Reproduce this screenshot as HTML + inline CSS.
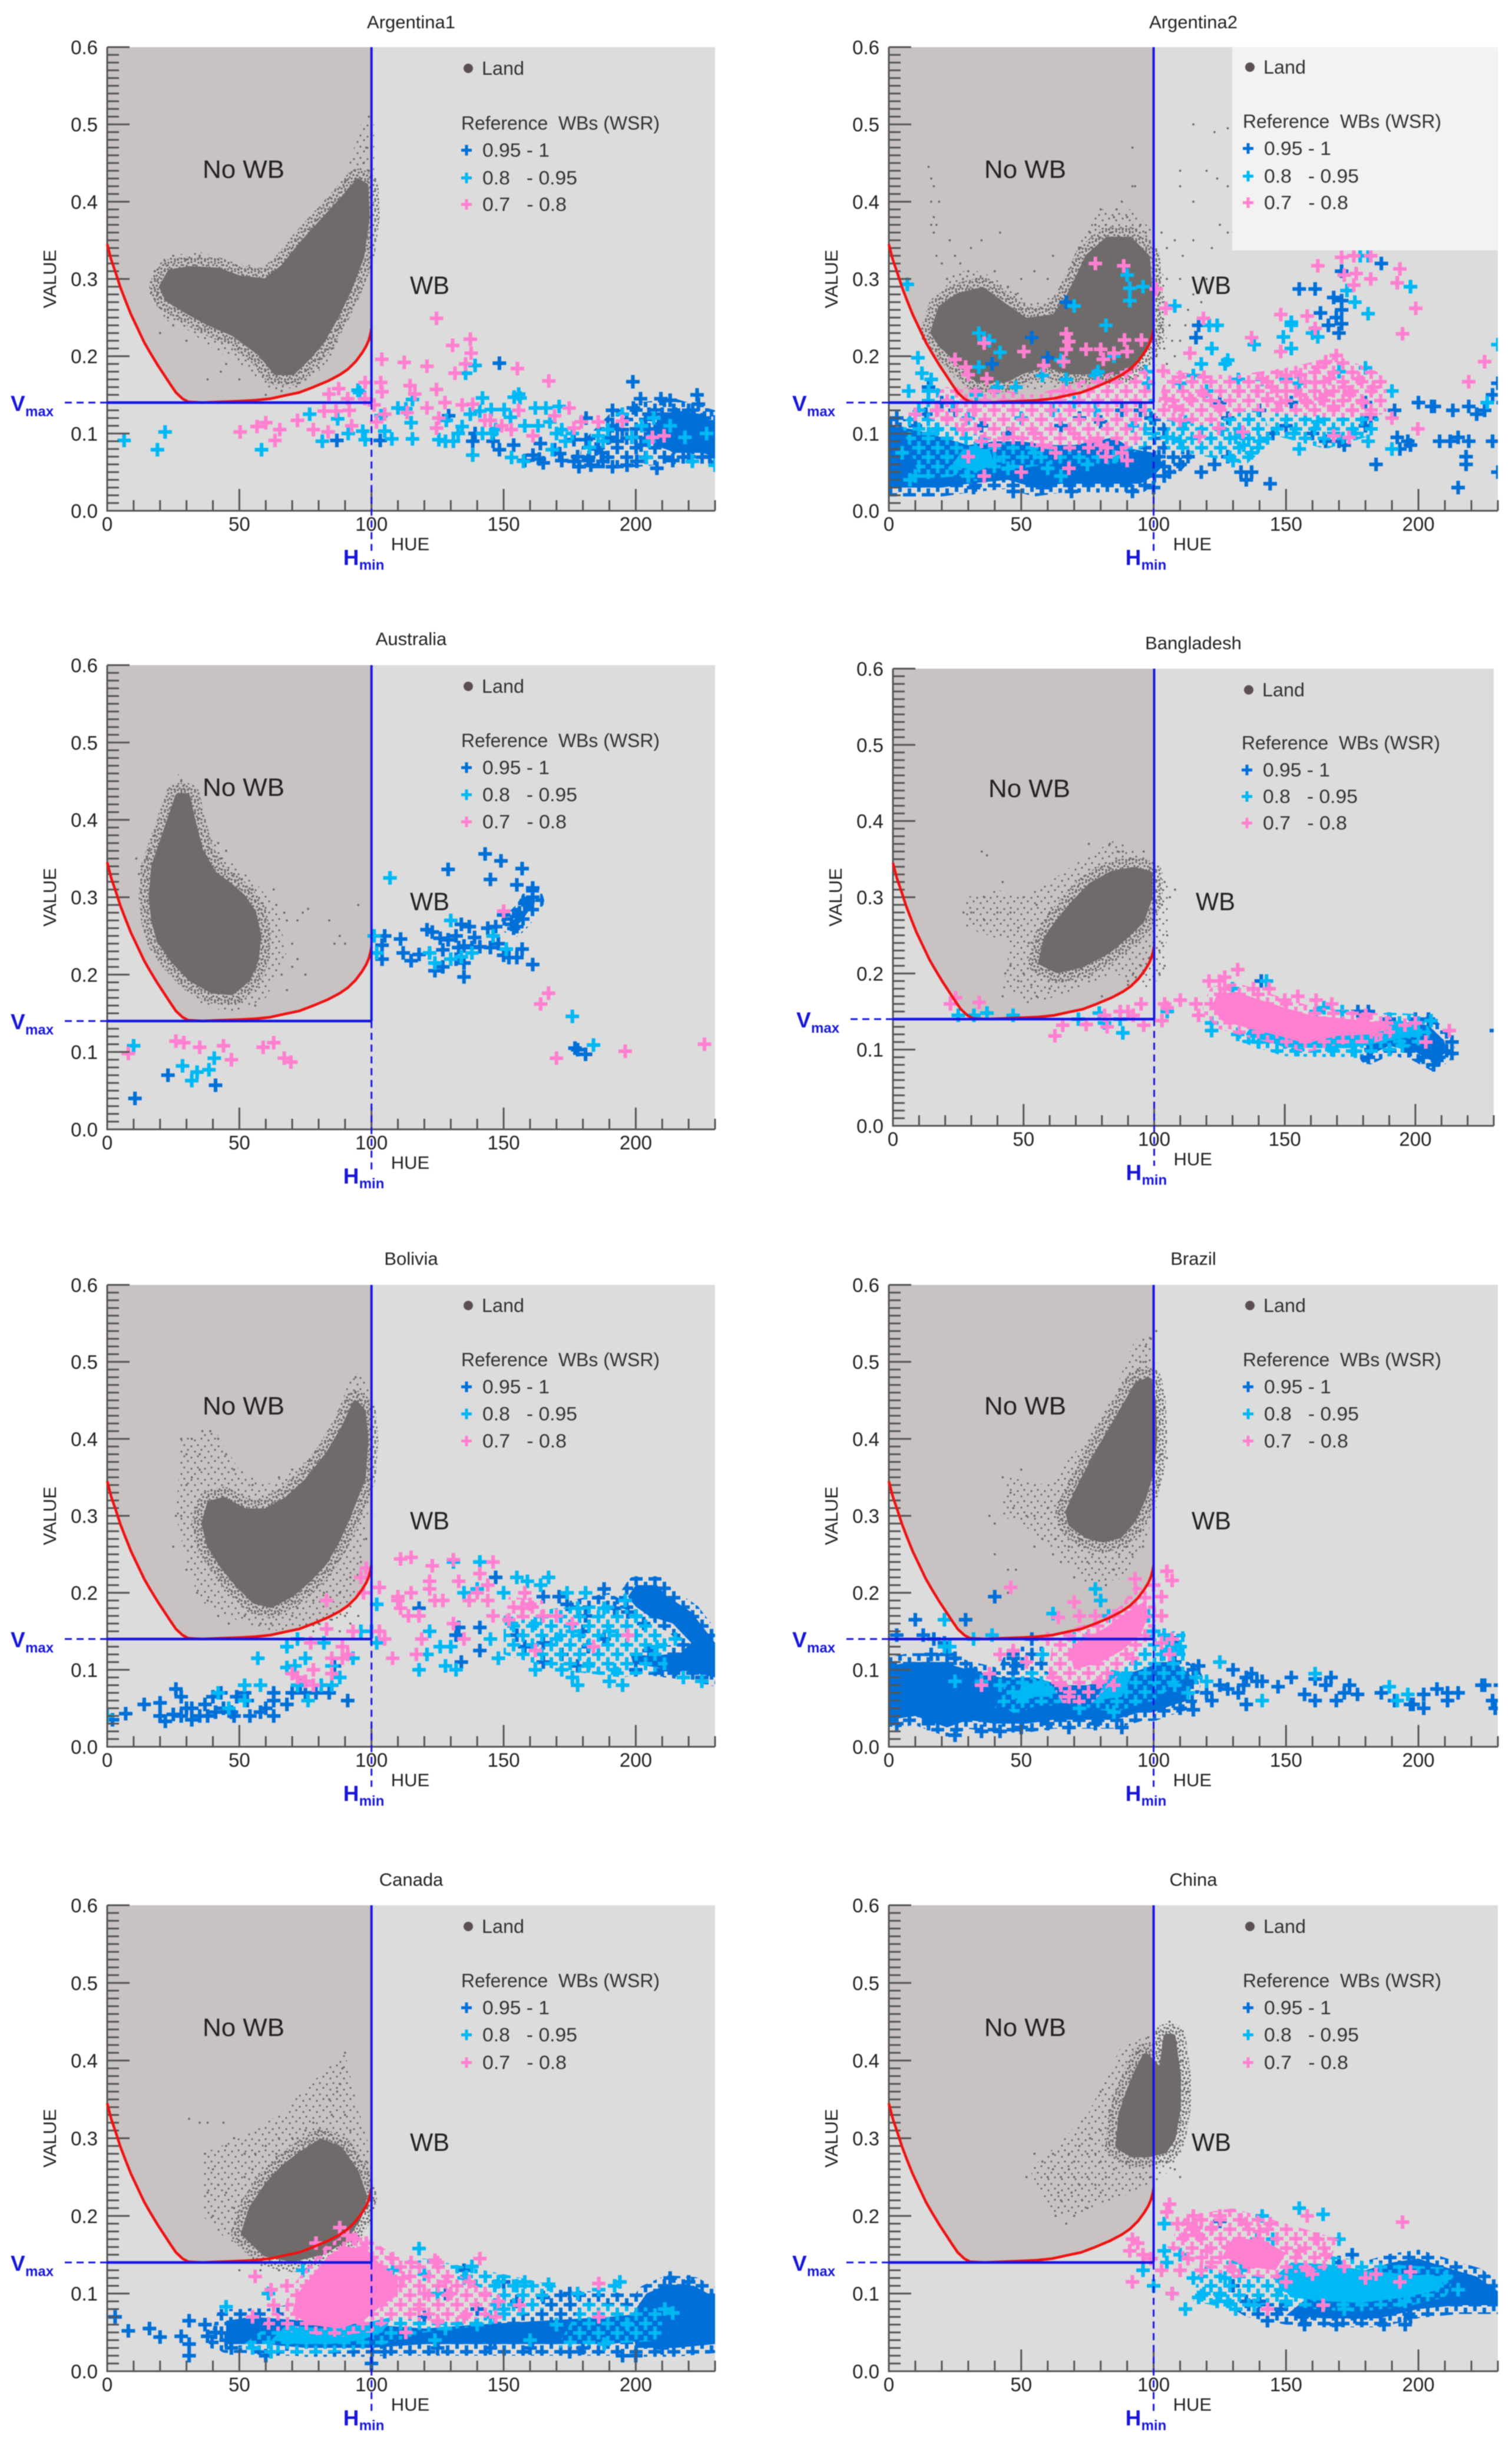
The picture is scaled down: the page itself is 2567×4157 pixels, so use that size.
<!DOCTYPE html>
<html>
<head>
<meta charset="utf-8">
<title>Hue-Value scatter panels</title>
<style>
html,body{margin:0;padding:0;background:#fff}
svg{display:block;filter:blur(.8px)}
text{font-family:"Liberation Sans",sans-serif;fill:#222;white-space:pre}
</style>
</head>
<body>
<svg id="figure" xmlns="http://www.w3.org/2000/svg" width="2567" height="4157" viewBox="0 0 2567 4157"></svg>
<script>
const categories=['Argentina1','Argentina2','Australia','Bangladesh','Bolivia','Brazil','Canada','China'];
const yTickLabels=['0.0','0.1','0.2','0.3','0.4','0.5','0.6'];
const xTickLabels=['0','50','100','150','200'];
const vmaxValue=0.14;
const hminValue=100;
const boundaryCurve=[[0,.345],[1.5,.325],[3.3,.307],[5,.289],[6.9,.272],[9,.254],[11.5,.236],[14,.218],[16,.206],[19,.189],[21.5,.176],[24,.163],[26,.153],[28.5,.145],[30.7,.141],[36,.14],[43,.141],[50.7,.142],[56,.143],[61.7,.145],[67,.149],[72.6,.153],[78,.16],[83.6,.168],[88,.176],[91,.183],[94,.193],[96.4,.204],[98,.213],[99,.221],[99.7,.23],[100,.236]];

const argentina1Land=[[21,.29],[24,.308],[31,.312],[42,.31],[50,.3],[60,.296],[67,.315],[74,.345],[82,.375],[90,.405],[95,.425],[97.5,.42],[98,.38],[96,.33],[91,.285],[86,.25],[81,.22],[76,.2],[70,.18],[64,.18],[58,.205],[48,.23],[38,.245],[30,.26],[23,.275]];
const argentina1Sparse=[[16,.3],[22,.33],[35,.335],[50,.32],[60,.315],[70,.345],[80,.385],[90,.43],[96,.5],[101,.5],[101,.4],[99,.33],[95,.27],[90,.24],[85,.2],[80,.18],[72,.16],[62,.155],[50,.19],[40,.21],[30,.235],[20,.25],[16,.275]];
const argentina1Dots=[[97,.45],[98,.47],[100,.49],[99,.51],[99,.44],[96,.43],[94,.43],[18,.3],[19,.28],[22,.32],[18,.31],[23,.25],[25,.24],[20,.23],[50,.17],[60,.15],[38,.17],[45,.19],[43,.18],[30,.22],[80,.185],[82,.2],[85,.21],[88,.24],[72,.165],[75,.17],[66,.155],[30,.325],[35,.33],[25,.33],[100,.47],[100,.42],[90,.425],[86,.38],[82,.36],[78,.18],[68,.165],[55,.2]];
const argentina1Clouds={blue:[[[207,.085],[215,.075],[225,.075],[230,.07],[230,.11],[225,.125],[215,.13],[208,.12]]],blueLoose:[[[178,.055],[195,.055],[210,.06],[230,.06],[230,.13],[215,.145],[200,.14],[190,.125],[180,.09]]],cyan:[],cyanLoose:[],pink:[],pinkLoose:[]};
const argentina1Blue=[[86.9,.091],[103.3,.091],[129.2,.123],[139.2,.1],[138.3,.09],[148.4,.191],[148.4,.079],[153.8,.085],[161.1,.072],[163.5,.067],[163.9,.087],[169.3,.079],[171.2,.074],[176.6,.092],[181.2,.092],[181.2,.12],[176.6,.064],[178.5,.057],[183,.059],[187.6,.064],[191.2,.13],[191.2,.057],[196.7,.059],[200.4,.064],[198.9,.167],[201.8,.145],[199.1,.133],[194.9,.105],[191.2,.11],[208,.055],[209.5,.145],[213,.143],[223.2,.15],[223.7,.138],[205,.125],[210,.125],[215,.125],[220,.13],[226,.12],[230,.115],[205,.105],[212,.1],[218,.11],[224,.105],[208,.09],[214,.085],[220,.08],[226,.085],[230,.09],[214,.065],[220,.07],[228,.07],[200,.095],[190,.095],[185,.08],[178,.07],[172,.065],[165,.062],[158,.065],[146,.09],[182,.065],[187,.075],[193,.09],[202,.085],[215,.11],[222,.12]];
const argentina1Cyan=[[6.4,.091],[19,.079],[21.9,.102],[58.4,.079],[76.6,.125],[81.4,.09],[87.2,.119],[91.2,.1],[94.9,.156],[95.5,.153],[96.7,.103],[97.6,.092],[105,.103],[107.7,.093],[103.6,.123],[110,.133],[113,.132],[115.5,.144],[115,.114],[115.5,.093],[128.3,.117],[131,.09],[135.6,.178],[139.2,.188],[142,.146],[134.3,.109],[137.4,.125],[141,.129],[145.3,.131],[145.6,.1],[150.2,.131],[152.6,.121],[156.2,.146],[155.7,.151],[154,.147],[153,.069],[157.5,.064],[162,.133],[166,.133],[163,.11],[167.5,.115],[171,.135],[172,.105],[173.4,.09],[168.4,.079],[138.3,.072],[132.8,.1],[125.5,.092],[128,.09],[185.8,.097],[187.6,.09],[182.5,.082],[189.4,.105],[194.9,.125],[198.5,.095],[202.2,.11],[206.8,.12],[205,.09],[213,.11],[218.6,.095],[221.4,.064],[226.8,.1],[230,.059],[204,.069],[142,.1],[147,.105],[158,.11],[170,.1],[176,.1]];
const argentina1Pink=[[50.3,.102],[56.7,.109],[60,.114],[65.3,.105],[63.5,.091],[72,.117],[78,.105],[83.6,.102],[82.1,.129],[86.6,.129],[83.9,.151],[87.6,.158],[91,.145],[91.6,.13],[92.5,.11],[97.6,.166],[97.5,.145],[101,.137],[103.9,.196],[103.5,.166],[104,.154],[101.9,.115],[105,.125],[112.4,.192],[114.6,.162],[116.4,.151],[113.5,.127],[121,.187],[121,.133],[124.6,.249],[124.6,.157],[125.5,.12],[124.6,.107],[127.8,.14],[130.7,.214],[131.6,.178],[135.6,.19],[137.4,.222],[137.7,.204],[134.3,.137],[138.3,.138],[142.9,.117],[145,.117],[149.3,.11],[152.9,.105],[155.2,.184],[155.7,.13],[167.1,.168],[161.1,.097],[169.3,.123],[174.8,.133],[176.6,.107],[179.4,.115],[185.8,.115],[194.9,.116],[206.3,.095],[210.7,.097]];

const argentina2Land=[[17,.231],[19.9,.262],[26.2,.277],[35.3,.285],[44.4,.262],[51.7,.245],[62.7,.25],[68,.275],[73,.31],[75.4,.328],[82.7,.35],[90.9,.35],[97.3,.328],[98.2,.282],[99,.231],[95.4,.206],[90,.181],[77.2,.181],[68,.181],[59,.191],[50,.181],[44.4,.171],[33.5,.171],[26.2,.196],[19.9,.216]];
const argentina2Sparse=[[15,.22],[18,.27],[25,.31],[35,.31],[45,.29],[55,.27],[65,.28],[70,.33],[78,.39],[92,.39],[100,.36],[104,.3],[105,.22],[100,.18],[85,.16],[60,.16],[40,.15],[28,.16],[20,.19]];
const argentina2Dots=[[105,.34],[103,.36],[108,.35],[110,.3],[105,.3],[102,.26],[106,.24],[110,.22],[112,.24],[104,.21],[108,.2],[115,.28],[120,.3],[115,.35],[125,.37],[128,.36],[130,.36],[115,.4],[110,.44],[120,.44],[124,.43],[128,.42],[115,.5],[123,.49],[128,.495],[110,.42],[15,.445],[16,.43],[17,.42],[16,.4],[17,.38],[18,.37],[16,.37],[19,.4],[17,.36],[25,.33],[27,.32],[30,.31],[35,.35],[50,.3],[55,.31],[60,.3],[70,.32],[88,.4],[92,.42],[93,.42],[92,.47],[85,.38],[80,.39],[82,.37],[90,.38],[95,.37],[97,.36],[76,.36],[78,.37],[86,.39],[84,.36],[100,.33],[101,.31],[102,.28],[104,.27],[108,.26],[103,.24],[107,.22],[101,.2],[105,.19],[22,.3],[28,.3],[33,.3],[40,.31],[45,.29],[48,.28],[65,.29],[68,.3],[72,.34],[75,.33],[18,.33],[23,.35],[20,.32],[31,.34],[42,.36],[62,.33],[113,.26],[118,.27],[111,.33],[122,.34]];
const argentina2Clouds={blue:[[[0,.03],[10,.03],[20,.03],[30,.035],[45,.04],[55,.03],[65,.035],[75,.035],[85,.035],[95,.035],[100,.045],[104,.06],[100,.075],[92,.08],[85,.095],[70,.085],[60,.085],[50,.09],[40,.09],[30,.085],[20,.095],[10,.105],[0,.11]]],blueLoose:[[[5,.09],[30,.08],[60,.08],[90,.07],[110,.05],[115,.07],[100,.13],[70,.14],[40,.125],[15,.13]]],cyan:[[[24,.06],[33,.05],[40,.06],[38,.08],[28,.08]]],cyanLoose:[[[12,.04],[40,.05],[60,.06],[85,.06],[100,.09],[100,.15],[70,.15],[40,.15],[15,.16],[5,.11]],[[105,.08],[120,.07],[135,.06],[145,.09],[140,.14],[120,.17],[105,.15]],[[143,.1],[165,.08],[185,.1],[185,.14],[165,.13],[145,.14]]],pink:[],pinkLoose:[[[15,.12],[40,.09],[60,.08],[85,.07],[95,.09],[100,.17],[95,.19],[75,.17],[55,.15],[35,.16],[20,.16]],[[100,.12],[120,.11],[135,.13],[150,.125],[168,.12],[188,.125],[188,.175],[170,.2],[150,.185],[130,.175],[105,.18]]]};
const argentina2Blue=[[67,.27],[54,.224],[39,.19],[60,.198],[116,.224],[117,.24],[155,.287],[161,.287],[168,.276],[171,.272],[171,.26],[163,.256],[166,.24],[171,.242],[170,.23],[186,.32],[171,.31],[169,.25],[3,.12],[5,.1],[10,.11],[14,.125],[15,.16],[20,.14],[25,.13],[30,.12],[35,.11],[45,.1],[55,.1],[65,.11],[72,.12],[80,.115],[88,.13],[95,.13],[99,.12],[102,.07],[106,.05],[110,.06],[113,.07],[118,.05],[123,.06],[128,.07],[133,.05],[137,.05],[135,.04],[144,.035],[125,.14],[128,.12],[140,.13],[145,.1],[150,.11],[152,.14],[160,.1],[165,.09],[170,.09],[172,.085],[180,.14],[182,.12],[184,.06],[180,.11],[191,.13],[192,.095],[193,.08],[196,.09],[197,.085],[200,.14],[205,.135],[206,.135],[208,.09],[212,.09],[215,.095],[219,.09],[218,.07],[218,.06],[215,.03],[213,.13],[219,.135],[222,.125],[225,.13],[230,.165],[228,.15],[232,.14],[228,.09],[230,.05],[19,.045],[32,.03],[47,.025],[58,.03],[69,.025],[92,.025],[100,.03],[104,.045]];
const argentina2Cyan=[[7,.293],[11,.198],[12.5,.178],[16,.17],[7.5,.155],[15,.155],[34,.23],[36,.222],[38,.22],[42,.205],[34,.186],[33,.15],[41,.16],[48,.16],[58,.175],[65,.195],[67,.17],[70,.265],[82,.24],[90,.305],[91,.288],[91,.272],[96,.29],[79,.18],[78,.175],[85,.2],[97,.18],[98,.165],[108,.265],[121,.24],[124,.24],[122,.21],[118,.19],[115,.175],[110,.165],[120,.155],[127,.19],[128,.195],[132,.17],[138,.215],[141,.17],[152,.244],[152,.24],[149,.225],[152,.21],[150,.17],[155,.165],[160,.23],[170,.18],[180,.185],[162,.225],[181,.255],[176,.27],[173,.285],[181,.33],[178,.33],[192,.295],[197,.29],[197,.29],[190,.155],[230,.215],[112,.115],[105,.095],[110,.09],[126,.105],[131,.095],[133,.1],[130,.065],[134,.085],[137,.075],[140,.09],[155,.08],[153,.1],[162,.115],[168,.1],[176,.1],[181,.09],[190,.08],[5,.075],[8,.04],[10,.045],[22,.07],[25,.055],[40,.065],[55,.075],[60,.055],[75,.06],[85,.07],[30,.045],[45,.055],[65,.045],[15,.1],[18,.105],[30,.12],[24,.14],[50,.12],[62,.13],[70,.14],[78,.13],[92,.11],[100,.1],[226,.14]];
const argentina2Pink=[[78,.32],[88.7,.317],[67,.229],[68,.219],[67,.209],[51,.206],[36,.217],[25,.196],[29,.186],[30,.176],[37,.171],[58.5,.188],[66,.193],[74.5,.209],[80,.209],[85,.204],[89,.221],[95.4,.221],[90,.206],[81,.196],[66,.155],[104.6,.262],[101,.287],[118.8,.249],[137,.224],[148,.254],[158,.252],[161,.236],[162,.317],[171,.328],[175.6,.33],[182,.33],[172,.305],[176.5,.307],[182,.3],[175.6,.292],[193,.313],[192,.295],[199,.262],[194,.229],[225,.193],[219,.167],[199.8,.106],[113.7,.204],[103.6,.181],[110,.173],[119,.173],[148,.206],[162,.186],[169,.201],[165,.193],[141,.171],[144.6,.16],[150,.155],[155.5,.176],[161,.166],[166.5,.171],[172,.16],[177.4,.171],[183,.16],[139,.155],[143,.145],[148,.14],[155.5,.15],[163,.145],[168,.135],[174,.15],[179,.14],[132,.155],[124.6,.135],[119,.15],[113.7,.145],[108,.135],[104.6,.145],[110,.117],[117.3,.096],[124.6,.107],[133.7,.102],[168,.097],[173.8,.095],[150,.175],[158,.14],[165,.15],[175,.13],[182,.125],[190,.12],[10,.125],[18,.13],[22,.12],[28,.105],[32,.13],[35,.09],[30,.07],[40,.085],[47,.095],[50,.05],[36,.045],[55,.1],[58,.085],[63,.075],[68,.055],[70,.1],[76,.09],[80,.085],[82,.07],[88,.075],[90,.065]];

const australiaLand=[[17,.3],[18,.34],[21,.37],[24,.4],[27,.43],[30,.43],[32,.4],[35,.36],[40,.33],[46,.315],[51,.3],[55,.28],[57,.25],[56,.22],[53,.195],[47,.178],[40,.18],[32,.195],[25,.22],[20,.245],[18,.27]];
const australiaSparse=[[12,.31],[15,.36],[22,.41],[27,.46],[31,.45],[36,.39],[45,.35],[56,.32],[65,.28],[68,.22],[60,.17],[48,.15],[36,.16],[25,.2],[16,.24]];
const australiaDots=[[28,.45],[29,.44],[27,.43],[13,.34],[15,.35],[11,.35],[12,.33],[16,.36],[18,.38],[42,.37],[45,.36],[48,.33],[63,.31],[64,.29],[67,.28],[68,.27],[72,.27],[74,.28],[76,.285],[70,.24],[72,.22],[75,.2],[84,.27],[88,.25],[90,.24],[95,.29],[86,.24],[68,.18],[56,.16],[50,.165],[66,.2],[70,.21],[55,.31],[43,.35]];
const australiaClouds={blue:[[[152,.265],[158,.285],[161,.305],[162,.295],[157,.27],[154,.26]]],blueLoose:[],cyan:[],cyanLoose:[],pink:[],pinkLoose:[]};
const australiaBlue=[[10.5,.04],[23,.07],[41,.057],[143,.356],[149,.347],[157,.337],[129,.336],[145,.323],[155,.316],[161,.312],[161,.3],[150,.277],[155,.275],[156,.28],[158,.292],[153,.265],[155,.262],[121,.258],[123,.255],[132,.25],[134,.265],[137,.262],[144,.26],[146,.25],[147,.262],[105,.25],[104,.238],[111,.246],[112,.228],[104,.22],[115,.218],[118,.226],[122,.228],[127,.232],[129,.245],[133,.235],[135,.237],[139,.248],[141,.236],[145,.235],[148,.24],[150,.225],[152,.222],[155,.222],[157,.233],[161,.213],[124,.205],[127,.21],[135,.197],[135,.215],[132,.22],[126,.247],[138,.235],[177,.105],[178,.103],[181,.097]];
const australiaCyan=[[10,.108],[28.5,.082],[32,.063],[34,.074],[38.5,.077],[40.5,.092],[107,.325],[130,.27],[101,.25],[102,.228],[122,.228],[124,.215],[130,.22],[134,.223],[138,.228],[146,.25],[151,.233],[176,.146],[184,.109]];
const australiaPink=[[8,.098],[26,.114],[29,.112],[35,.106],[44,.108],[47,.09],[59,.106],[63,.112],[67,.092],[69.5,.087],[150,.282],[164,.162],[167,.176],[170,.092],[196,.101],[226,.11]];

const bangladeshLand=[[57,.215],[59,.245],[63,.265],[69,.29],[76,.315],[84,.33],[92,.335],[98,.33],[98,.3],[95,.27],[89,.25],[82,.23],[72,.212],[63,.205]];
const bangladeshSparse=[[28,.26],[28,.3],[40,.31],[50,.3],[60,.32],[72,.35],[85,.375],[98,.35],[106,.31],[104,.2],[98,.18],[85,.2],[68,.175],[52,.16],[42,.18],[45,.24]];
const bangladeshDots=[[35,.3],[30,.28],[27,.28],[35,.27],[40,.28],[45,.28],[36,.355],[34,.36],[42,.32],[50,.3],[55,.29],[60,.28],[48,.26],[52,.24],[45,.21],[43,.2],[48,.19],[42,.17],[55,.17],[60,.18],[50,.2],[65,.19],[70,.19],[75,.195],[80,.17],[90,.19],[92,.2],[95,.21],[98,.22],[100,.24],[102,.23],[104,.21],[103,.24],[105,.25],[108,.31],[106,.3],[104,.32],[103,.29],[83,.37],[86,.36],[92,.35],[96,.36],[80,.34],[100,.34],[101,.27],[90,.185],[93,.195],[96,.2],[100,.195],[88,.36],[75,.37],[102,.2],[58,.23],[53,.185],[68,.2]];
const bangladeshClouds={blue:[[[182,.092],[190,.105],[200,.097],[207,.084],[212,.097],[211,.112],[205,.132],[195,.135],[185,.132],[180,.12]]],blueLoose:[],cyan:[[[135,.12],[150,.103],[165,.102],[175,.102],[185,.108],[195,.115],[203,.118],[200,.135],[190,.137],[170,.132],[150,.138],[137,.13]]],cyanLoose:[],pink:[[[122,.155],[124,.172],[131,.176],[140,.166],[150,.155],[160,.145],[175,.14],[188,.135],[189,.126],[183,.12],[170,.118],[158,.108],[148,.118],[136,.128],[126,.138]]],pinkLoose:[]};
const bangladeshBlue=[[141,.19],[207,.08],[209,.09],[214,.095],[214,.11],[210,.105],[203,.09],[198,.1],[182,.09],[183,.1],[188,.125],[178,.15],[182,.15],[190,.14],[200,.14],[205,.14],[231,.125]];
const bangladeshCyan=[[25,.145],[31,.145],[36,.148],[46,.145],[71,.14],[79,.148],[81,.135],[87,.14],[88,.122],[105,.15],[122,.125],[122,.135],[132,.12],[138,.118],[143,.19],[150,.11],[162,.15],[165,.155],[172,.15],[177,.098],[206,.138],[200,.125],[190,.1],[195,.105],[130,.18],[140,.11],[155,.1],[168,.1]];
const bangladeshPink=[[22,.16],[24,.168],[33,.162],[62,.118],[65,.132],[74,.133],[81,.145],[82,.13],[87,.15],[90,.15],[92,.145],[95,.16],[96,.132],[103,.138],[104,.16],[105,.155],[110,.165],[116,.16],[117,.145],[121,.19],[125,.19],[127,.195],[132,.205],[127,.18],[138,.18],[144,.18],[150,.165],[155,.17],[162,.165],[168,.16],[180,.14],[189,.135],[185,.12],[196,.132],[200,.135],[204,.11],[213,.125],[181,.145]];

const boliviaLand=[[37,.29],[39,.315],[44,.32],[52,.305],[60,.305],[68,.32],[76,.345],[84,.38],[90,.415],[94,.445],[96.5,.435],[97.5,.4],[96.5,.35],[92,.31],[87,.27],[82,.24],[76,.218],[70,.2],[62,.185],[56,.19],[50,.21],[44,.235],[39,.262]];
const boliviaSparse=[[26,.3],[28,.4],[41,.41],[50,.36],[60,.34],[72,.36],[85,.41],[93,.49],[99,.47],[100,.35],[98,.28],[95,.22],[92,.17],[80,.155],[60,.15],[45,.17],[35,.19],[30,.24]];
const boliviaDots=[[94,.48],[94,.46],[93,.43],[28,.4],[32,.4],[36,.41],[39,.41],[42,.4],[30,.38],[35,.38],[45,.38],[28,.3],[26,.3],[30,.34],[32,.35],[35,.36],[25,.26],[32,.26],[30,.23],[34,.2],[38,.19],[43,.22],[42,.17],[46,.16],[52,.17],[58,.16],[62,.16],[70,.17],[72,.18],[78,.19],[82,.2],[85,.19],[88,.2],[92,.22],[96,.24],[98,.27],[100,.3],[100,.35],[100,.38],[88,.35],[84,.32],[78,.33],[70,.36],[65,.35],[82,.37],[86,.39],[48,.36],[55,.34],[95,.17],[92,.16],[88,.15],[80,.16],[90,.17],[85,.165],[78,.15]];
const boliviaClouds={blue:[[[197,.195],[200,.21],[208,.21],[212,.195],[221,.175],[230,.135],[230,.09],[220,.098],[210,.102],[199,.108],[198,.12],[206,.118],[217,.122],[221,.135],[214,.16],[205,.17],[200,.182]]],blueLoose:[[[175,.1],[195,.1],[200,.18],[190,.2],[175,.19]]],cyan:[],cyanLoose:[[[150,.12],[170,.1],[195,.09],[212,.1],[212,.14],[205,.17],[190,.185],[170,.18],[150,.17]]],pink:[],pinkLoose:[[[150,.16],[165,.17],[165,.19],[152,.195]]]};
const boliviaBlue=[[2,.035],[7,.043],[14,.055],[20,.057],[26,.075],[28,.065],[20,.04],[25,.042],[22,.033],[28,.04],[30,.05],[32,.035],[32,.05],[35,.04],[37,.055],[38,.04],[41,.045],[40,.065],[43,.07],[44,.05],[47,.045],[48,.04],[49,.065],[52,.07],[53,.06],[54,.04],[58,.045],[60,.05],[63,.04],[63,.07],[63,.06],[68,.055],[70,.07],[73,.08],[75,.07],[79,.07],[84,.07],[86,.105],[91,.06],[118,.18],[133,.155],[134,.11],[132,.145],[141,.125],[141,.155],[147,.22],[155,.145],[158,.13],[165,.135],[165,.195],[165,.11],[171,.195],[172,.12],[174,.185],[178,.105],[180,.15],[181,.17],[188,.205],[182,.13],[188,.14],[192,.18],[203,.16],[205,.125],[210,.1],[200,.1],[197,.175],[215,.1],[225,.09]];
const boliviaCyan=[[0,.04],[52,.08],[57,.115],[58,.08],[52,.06],[46,.05],[42,.07],[68,.13],[68,.103],[72,.14],[71,.105],[75,.115],[82,.135],[85,.105],[81,.08],[76,.06],[72,.08],[85,.08],[88,.09],[93,.115],[96,.15],[100,.15],[102,.135],[102,.185],[118,.1],[121,.12],[122,.15],[126,.13],[128,.105],[130,.13],[131,.24],[132,.1],[135,.2],[140,.205],[141,.24],[145,.14],[148,.115],[150,.2],[153,.16],[155,.22],[159,.215],[162,.16],[162,.1],[164,.21],[167,.22],[170,.14],[174,.2],[176,.15],[176,.09],[178,.08],[182,.105],[181,.2],[188,.18],[190,.15],[192,.1],[190,.085],[195,.08],[196,.19],[200,.17],[208,.13],[215,.14],[218,.09],[225,.085],[178,.18],[172,.1]];
const boliviaPink=[[83,.19],[83,.153],[72,.09],[70,.095],[78,.1],[75,.085],[78,.08],[85,.095],[85,.115],[89,.115],[89,.13],[77,.135],[91,.12],[93,.15],[97,.2],[96,.22],[98,.232],[103,.207],[103,.15],[105,.14],[108,.115],[110,.195],[111,.244],[115,.246],[111,.18],[110,.19],[115,.2],[114,.17],[118,.17],[117,.12],[119,.14],[122,.205],[122,.215],[123,.235],[124,.19],[127,.19],[131,.243],[131,.16],[133,.215],[135,.14],[137,.19],[140,.2],[141,.225],[144,.21],[146,.24],[146,.17],[144,.19],[152,.165],[157,.18],[158,.2],[160,.185],[165,.17],[170,.17],[162,.125],[176,.16],[184,.13],[197,.145]];

const brazilLand=[[68,.305],[72,.335],[78,.375],[84,.41],[89,.44],[94,.47],[98,.475],[99.5,.45],[100,.4],[99,.36],[96,.325],[92,.295],[87,.275],[81,.27],[75,.275],[69,.29]];
const brazilSparse=[[45,.35],[60,.34],[72,.39],[85,.46],[93,.53],[100,.535],[103,.42],[102,.32],[97,.27],[90,.22],[75,.21],[65,.25],[50,.29],[42,.3]];
const brazilDots=[[95,.5],[97,.52],[99,.53],[100,.5],[97,.5],[94,.49],[93,.48],[101,.54],[100,.52],[102,.45],[104,.44],[102,.41],[103,.38],[105,.375],[102,.34],[43,.35],[46,.33],[50,.36],[47,.31],[52,.3],[38,.3],[40,.29],[55,.3],[60,.31],[65,.32],[58,.27],[62,.25],[55,.26],[65,.24],[70,.22],[75,.24],[80,.24],[82,.21],[85,.23],[90,.26],[95,.28],[63,.27],[68,.26],[72,.27],[77,.25],[87,.25],[40,.25],[45,.2],[45,.23],[48,.23],[85,.34],[78,.37],[70,.33],[96,.26],[92,.25]];
const brazilClouds={blue:[[[0,.035],[10,.04],[22,.025],[30,.035],[40,.03],[52,.03],[62,.035],[72,.035],[85,.035],[95,.045],[100,.045],[108,.055],[113,.06],[115,.09],[108,.11],[103,.11],[95,.1],[75,.08],[65,.08],[55,.09],[42,.09],[30,.1],[20,.11],[8,.11],[0,.105]]],blueLoose:[[[40,.09],[60,.09],[60,.13],[45,.13]]],cyan:[[[48,.055],[55,.065],[62,.065],[58,.085],[50,.08]],[[78,.06],[88,.065],[92,.095],[84,.1]]],cyanLoose:[[[40,.05],[60,.06],[85,.045],[100,.06],[112,.09],[112,.15],[98,.15],[92,.12],[70,.08],[55,.1],[45,.09]]],pink:[[[70,.1],[80,.11],[88,.125],[95,.145],[98,.17],[97,.19],[90,.175],[82,.155],[74,.14],[68,.125]]],pinkLoose:[[[60,.09],[66,.055],[76,.055],[85,.085],[93,.12],[100,.15],[100,.2],[93,.21],[85,.17],[70,.155],[62,.14]]]};
const brazilBlue=[[3,.145],[10,.165],[13,.145],[16,.12],[17,.14],[21,.135],[25,.115],[29,.165],[22,.12],[31,.1],[40,.195],[48,.105],[54,.14],[47,.115],[105,.09],[108,.11],[115,.1],[117,.105],[125,.08],[130,.1],[128,.075],[132,.07],[134,.08],[135,.09],[137,.095],[139,.085],[141,.085],[147,.078],[152,.09],[157,.068],[161,.088],[161,.06],[165,.08],[167,.09],[169,.06],[172,.07],[174,.08],[177,.068],[186,.07],[191,.06],[197,.055],[198,.055],[202,.05],[202,.068],[207,.075],[211,.07],[211,.06],[215,.07],[224,.08],[225,.08],[228,.06],[229,.05],[231,.08],[135,.055],[122,.06],[120,.07],[110,.05],[115,.048],[3,.03],[15,.03],[25,.015],[35,.02],[42,.02],[50,.025],[60,.03],[68,.025],[78,.03],[88,.025],[108,.135]];
const brazilCyan=[[21,.165],[39,.145],[78,.205],[80,.19],[62,.173],[83,.17],[32,.14],[21,.13],[23,.13],[58,.12],[70,.14],[72,.13],[75,.14],[98,.17],[100,.15],[104,.145],[105,.135],[107,.125],[103,.12],[110,.13],[125,.11],[116,.09],[108,.08],[113,.07],[120,.085],[141,.06],[161,.095],[189,.078],[192,.06],[196,.068],[47,.07],[42,.08],[55,.08],[60,.075],[35,.085],[25,.085],[50,.065],[72,.05],[85,.045]];
const brazilPink=[[46,.207],[70,.188],[64,.168],[93,.218],[100,.21],[105,.228],[107,.216],[103,.195],[103,.17],[42,.12],[47,.125],[52,.11],[38,.095],[35,.08],[62,.09],[65,.08],[68,.065],[85,.08],[80,.085],[76,.115],[92,.115],[106,.12],[103,.135],[107,.14],[60,.14],[72,.17],[78,.17],[85,.17]];

const canadaLand=[[52,.178],[55,.21],[61,.24],[67,.262],[74,.28],[81,.295],[88,.285],[94,.255],[97,.225],[95,.2],[90,.172],[82,.155],[70,.145],[60,.152]];
const canadaSparse=[[36,.2],[36,.28],[50,.3],[65,.33],[80,.38],[90,.41],[94,.35],[100,.28],[100,.2],[90,.16],[60,.15],[45,.17]];
const canadaDots=[[90,.41],[89,.39],[88,.37],[87,.36],[84,.35],[85,.33],[80,.31],[78,.32],[90,.33],[92,.31],[75,.31],[70,.3],[65,.3],[60,.29],[52,.28],[48,.3],[44,.32],[35,.32],[31,.325],[38,.32],[45,.29],[37,.28],[40,.26],[42,.24],[45,.23],[38,.23],[40,.2],[48,.21],[52,.25],[55,.26],[56,.28],[100,.3],[100,.28],[101,.22],[100,.2],[64,.28],[72,.3],[98,.27],[62,.14],[65,.13],[50,.13],[58,.13]];
const canadaClouds={blue:[[[200,.03],[215,.03],[230,.035],[230,.095],[222,.11],[212,.112],[204,.1],[198,.07]],[[45,.035],[60,.035],[75,.03],[100,.03],[120,.035],[140,.035],[165,.035],[190,.035],[205,.04],[205,.075],[190,.07],[165,.065],[140,.06],[120,.055],[100,.06],[75,.065],[55,.07],[45,.065]]],blueLoose:[[[38,.03],[60,.02],[90,.02],[120,.02],[160,.02],[200,.02],[230,.03],[230,.1],[200,.1],[170,.105],[150,.115],[130,.125],[105,.11],[60,.08],[42,.08]]],cyan:[[[62,.04],[72,.035],[85,.035],[96,.04],[104,.05],[108,.07],[95,.06],[80,.055],[68,.06]]],cyanLoose:[[[50,.03],[75,.02],[100,.03],[120,.05],[145,.06],[165,.08],[170,.11],[150,.125],[135,.135],[120,.145],[105,.14],[95,.08],[65,.07]],[[170,.03],[210,.04],[210,.08],[180,.09]]],pink:[[[70,.075],[76,.06],[88,.055],[97,.065],[104,.085],[110,.098],[110,.12],[104,.135],[98,.158],[90,.16],[84,.15],[78,.125],[72,.1]]],pinkLoose:[[[58,.055],[70,.05],[80,.1],[82,.16],[92,.18],[102,.165],[112,.14],[125,.14],[145,.1],[145,.07],[125,.06],[110,.07],[100,.05],[80,.045],[62,.08]]]};
const canadaBlue=[[3,.07],[8,.052],[16,.055],[20,.044],[28,.045],[31,.02],[31,.035],[31,.065],[37,.06],[38,.045],[41,.05],[45,.04],[47,.03],[52,.06],[56,.05],[60,.02],[68,.035],[120,.07],[128,.1],[135,.13],[140,.08],[150,.115],[155,.09],[165,.095],[175,.1],[180,.03],[195,.02],[200,.02],[213,.12],[220,.115],[230,.09],[100,.01],[105,.025],[125,.03],[145,.03],[160,.03],[175,.025],[210,.03]];
const canadaCyan=[[45,.083],[61,.1],[74,.13],[118,.158],[108,.13],[120,.125],[125,.1],[135,.12],[138,.135],[148,.115],[155,.11],[158,.115],[167,.112],[178,.1],[186,.105],[192,.11],[194,.115],[170,.06],[160,.04],[150,.08],[145,.07],[128,.055],[124,.04],[140,.06],[188,.035],[197,.06],[62,.025],[55,.03],[211,.08],[214,.075]];
const canadaPink=[[56,.122],[62,.105],[68,.11],[55,.07],[63,.085],[79,.165],[88,.185],[94,.17],[91,.175],[98,.165],[108,.145],[115,.14],[124,.143],[125,.14],[141,.145],[128,.115],[130,.1],[120,.1],[118,.08],[125,.065],[135,.07],[143,.1],[148,.09],[147,.07],[137,.115],[156,.085],[186,.07],[186,.113],[113,.05],[112,.12]];

const chinaLand=[[87,.29],[88,.33],[91,.36],[94,.385],[97,.405],[100,.395],[103,.38],[105,.43],[107,.43],[109,.38],[109,.34],[107,.3],[104,.285],[98,.28],[92,.28]];
const chinaSparse=[[53,.26],[60,.28],[75,.33],[88,.42],[97,.43],[108,.45],[113,.37],[110,.27],[100,.24],[85,.22],[70,.2],[62,.2]];
const chinaDots=[[98,.43],[96,.42],[94,.41],[106,.45],[107,.43],[111,.4],[112,.37],[113,.36],[110,.32],[108,.29],[80,.36],[85,.35],[84,.33],[80,.31],[76,.3],[78,.28],[72,.29],[68,.28],[62,.28],[58,.27],[55,.28],[52,.25],[62,.26],[65,.25],[68,.26],[70,.25],[72,.24],[75,.25],[78,.24],[82,.25],[85,.26],[65,.22],[70,.2],[75,.21],[63,.2],[67,.19],[73,.22],[80,.23],[90,.27],[95,.25],[99,.25],[100,.27],[105,.27],[108,.26],[110,.25],[64,.23],[69,.23],[82,.29],[86,.3],[80,.27],[75,.28],[70,.27],[60,.25]];
const chinaClouds={blue:[[[150,.072],[165,.068],[185,.068],[200,.08],[215,.085],[230,.085],[230,.103],[222,.122],[212,.132],[200,.145],[190,.14],[175,.125],[160,.1]]],blueLoose:[[[120,.1],[135,.07],[150,.06],[170,.06],[190,.06],[200,.075],[180,.11],[150,.12],[130,.13]]],cyan:[[[152,.095],[165,.09],[178,.088],[195,.095],[208,.105],[210,.122],[195,.125],[180,.13],[165,.138],[152,.14],[145,.12]]],cyanLoose:[[[115,.09],[130,.08],[150,.09],[160,.15],[150,.18],[135,.17],[118,.15]]],pink:[[[126,.148],[135,.135],[146,.13],[150,.152],[142,.168],[130,.172]]],pinkLoose:[[[105,.16],[112,.2],[130,.21],[150,.19],[170,.17],[165,.13],[130,.12],[115,.14]]]};
const chinaBlue=[[125,.193],[107,.1],[135,.09],[143,.065],[148,.08],[156,.07],[157,.06],[160,.075],[169,.06],[176,.07],[187,.06],[195,.06],[197,.07],[175,.15],[170,.14],[180,.075],[185,.085],[165,.09],[130,.11],[140,.09]];
const chinaCyan=[[96,.13],[100,.11],[104,.19],[104,.155],[105,.14],[110,.15],[112,.08],[115,.12],[117,.095],[119,.1],[124,.09],[125,.1],[127,.12],[130,.14],[131,.08],[137,.16],[138,.085],[139,.17],[141,.2],[145,.145],[145,.17],[148,.105],[150,.09],[155,.21],[164,.202],[165,.11],[168,.13],[170,.17],[172,.08],[180,.105],[188,.105],[195,.09],[205,.115],[210,.12],[215,.105],[160,.1],[155,.12],[128,.09],[133,.13]];
const chinaPink=[[92,.115],[91,.155],[92,.17],[94,.165],[96,.15],[99,.145],[105,.205],[106,.215],[109,.19],[112,.175],[113,.19],[115,.2],[116,.185],[117,.175],[120,.155],[118,.195],[122,.185],[122,.14],[125,.2],[128,.16],[130,.13],[133,.195],[135,.19],[137,.155],[140,.18],[144,.19],[145,.14],[150,.115],[143,.08],[155,.155],[158,.2],[158,.13],[162,.17],[165,.15],[160,.125],[164,.085],[172,.135],[180,.12],[184,.125],[193,.115],[194,.192],[197,.128],[107,.1],[103,.13],[110,.13],[113,.145],[118,.13]];

const layouts=[
 {l:182,r:1214,t:80,b:867,title:48,land:116,ref:209,e:[255,302,347],nowb:302,wb:499,lx:613},
 {l:1509,r:2543,t:80,b:867,title:48,land:114,ref:206,e:[252,299,344],nowb:302,wb:499,lx:613,overlay:true},
 {l:182,r:1214,t:1129,b:1917,title:1095,land:1165,ref:1257,e:[1303,1349,1395],nowb:1351,wb:1545,lx:613},
 {l:1516,r:2536,t:1135,b:1911,title:1102,land:1171,ref:1261,e:[1307,1352,1397],nowb:1353,wb:1545,lx:604},
 {l:182,r:1214,t:2181,b:2965,title:2147,land:2216,ref:2308,e:[2354,2400,2446],nowb:2401,wb:2596,lx:613},
 {l:1509,r:2543,t:2181,b:2965,title:2147,land:2216,ref:2308,e:[2354,2400,2446],nowb:2401,wb:2596,lx:613},
 {l:182,r:1214,t:3234,b:4025,title:3201,land:3270,ref:3362,e:[3408,3454,3501],nowb:3456,wb:3651,lx:613},
 {l:1509,r:2543,t:3234,b:4025,title:3201,land:3270,ref:3362,e:[3408,3454,3501],nowb:3456,wb:3651,lx:613}
];
const landHulls=[argentina1Land,argentina2Land,australiaLand,bangladeshLand,boliviaLand,brazilLand,canadaLand,chinaLand];
const landSparse=[argentina1Sparse,argentina2Sparse,australiaSparse,bangladeshSparse,boliviaSparse,brazilSparse,canadaSparse,chinaSparse];
const landDots=[argentina1Dots,argentina2Dots,australiaDots,bangladeshDots,boliviaDots,brazilDots,canadaDots,chinaDots];
const clouds=[argentina1Clouds,argentina2Clouds,australiaClouds,bangladeshClouds,boliviaClouds,brazilClouds,canadaClouds,chinaClouds];
const blueSeries=[argentina1Blue,argentina2Blue,australiaBlue,bangladeshBlue,boliviaBlue,brazilBlue,canadaBlue,chinaBlue];
const cyanSeries=[argentina1Cyan,argentina2Cyan,australiaCyan,bangladeshCyan,boliviaCyan,brazilCyan,canadaCyan,chinaCyan];
const pinkSeries=[argentina1Pink,argentina2Pink,australiaPink,bangladeshPink,boliviaPink,brazilPink,canadaPink,chinaPink];

const NS='http://www.w3.org/2000/svg';
const BLUE='#0070d8',CYAN='#00b8f4',PINK='#ff80d0',AXIS='#555',LINE='#1616e2',LAND='#6f6b6b';
const svg=document.getElementById('figure');
function mk(tag,attrs,parent){
  const e=document.createElementNS(NS,tag);
  for(const k in attrs)e.setAttribute(k,attrs[k]);
  parent.appendChild(e);
  return e;
}
function txt(parent,x,y,size,str,opts){
  opts=opts||{};
  const e=mk('text',{x:x,y:y,'font-size':size},parent);
  if(opts.anchor)e.setAttribute('text-anchor',opts.anchor);
  if(opts.weight)e.setAttribute('font-weight',opts.weight);
  if(opts.fill)e.setAttribute('style','fill:'+opts.fill);
  if(opts.len){e.setAttribute('textLength',opts.len);e.setAttribute('lengthAdjust','spacingAndGlyphs');}
  if(opts.transform)e.setAttribute('transform',opts.transform);
  e.textContent=str;
  return e;
}
const defs=mk('defs',{},svg);
[['blue',BLUE],['cyan',CYAN],['pink',PINK]].forEach(c=>{
  const pat=mk('pattern',{id:'plus-'+c[0],patternUnits:'userSpaceOnUse',width:32,height:32},defs);
  [[8,8],[24,24],[40,8],[8,40],[24,-8],[-8,24]].forEach(o=>{
    mk('path',{d:'M'+(o[0]-11)+' '+o[1]+'h22M'+o[0]+' '+(o[1]-11)+'v22',stroke:c[1],'stroke-width':6,fill:'none'},pat);
  });
});
const denseTile=mk('pattern',{id:'stipple-dense',patternUnits:'userSpaceOnUse',width:17,height:17},defs);
[[2,3],[8,1],[14,4],[5,8],[11,9],[16,12],[2,14],[8,15],[13,15]].forEach(o=>mk('circle',{cx:o[0],cy:o[1],r:1.8,fill:LAND},denseTile));
const sparseTile=mk('pattern',{id:'stipple-sparse',patternUnits:'userSpaceOnUse',width:23,height:19},defs);
[[3,4],[14,2],[20,10],[9,13]].forEach(o=>mk('circle',{cx:o[0],cy:o[1],r:1.6,fill:LAND},sparseTile));

function drawPanel(i){
  const L=layouts[i],name=categories[i].toLowerCase();
  const X=h=>L.l+h/230*(L.r-L.l);
  const Y=v=>L.b-v/0.6*(L.b-L.t);
  const pts=a=>a.map(p=>X(p[0]).toFixed(1)+','+Y(p[1]).toFixed(1)).join(' ');
  const g=mk('g',{},svg);
  
  
  const clipId='clip-'+i;
  const cp=mk('clipPath',{id:clipId},g);
  mk('rect',{x:L.l,y:L.t,width:L.r-L.l,height:L.b-L.t},cp);

  const bg=mk('rect',{x:L.l,y:L.t,width:L.r-L.l,height:L.b-L.t,fill:'#dcdcdc'},g);
  
  
  const region=mk('polygon',{points:pts([[0,.6],[hminValue,.6]].concat(boundaryCurve.slice().reverse())),fill:'#c8c2c2'},g);
  
  

  const body=mk('g',{'clip-path':'url(#'+clipId+')'},g);
  
  

  const sparse=mk('polygon',{points:pts(landSparse[i]),fill:'url(#stipple-sparse)'},body);
  
  
  const fringe=mk('polygon',{points:pts(landHulls[i]),fill:'none',stroke:'url(#stipple-dense)','stroke-width':46,'stroke-linejoin':'round'},body);
  
  
  const core=mk('polygon',{points:pts(landHulls[i]),fill:LAND,stroke:LAND,'stroke-width':12,'stroke-linejoin':'round'},body);
  
  
  for(const d of landDots[i]){
    const c=mk('circle',{cx:X(d[0]),cy:Y(d[1]),r:1.9,fill:LAND},body);
    
    
  }

  const groups=[['blue',BLUE,blueSeries[i]],['cyan',CYAN,cyanSeries[i]],['pink',PINK,pinkSeries[i]]];
  for(const gr of groups){
    for(const poly of clouds[i][gr[0]+'Loose']){
      const lp=mk('polygon',{points:pts(poly),fill:'url(#plus-'+gr[0]+')'},body);
      
      
    }
    for(const poly of clouds[i][gr[0]]){
      const pg=mk('polygon',{points:pts(poly),fill:gr[1],stroke:'url(#plus-'+gr[0]+')','stroke-width':30,'stroke-linejoin':'round'},body);
      
      
    }
    for(const p of gr[2]){
      const x=X(p[0]),y=Y(p[1]),a=11.5;
      const m=mk('path',{d:'M'+(x-a)+' '+y+'H'+(x+a)+'M'+x+' '+(y-a)+'V'+(y+a),stroke:gr[1],'stroke-width':6.2,fill:'none'},body);
      
      
    }
  }

  if(L.overlay){
    const ov=mk('rect',{x:L.l+583,y:L.t,width:L.r-L.l-583,height:345,fill:'#f2f2f2'},g);
    
    
  }

  const ticks=mk('g',{stroke:AXIS,'stroke-width':3,fill:'none'},g);
  
  
  for(let k=0;k<=60;k++){
    const len=k%10===0?38:20;
    mk('path',{d:'M'+L.l+' '+Y(k/100)+'h'+len},ticks);
  }
  for(let k=0;k<=23;k++){
    const len=k%5===0?37:18;
    mk('path',{d:'M'+X(k*10)+' '+L.b+'v'+(-len)},ticks);
  }
  mk('path',{d:'M'+L.l+' '+L.t+'V'+L.b+'H'+L.r},ticks);

  const red=mk('polyline',{points:pts(boundaryCurve),fill:'none',stroke:'#ee1212','stroke-width':4.5,'stroke-linejoin':'round'},g);
  
  
  const hl=mk('path',{d:'M'+L.l+' '+Y(vmaxValue)+'H'+X(hminValue),stroke:LINE,'stroke-width':4.5,fill:'none'},g);
  
  
  const vl=mk('path',{d:'M'+X(hminValue)+' '+L.t+'V'+Y(vmaxValue),stroke:LINE,'stroke-width':4,fill:'none'},g);
  
  
  const vd=mk('path',{d:'M'+L.l+' '+Y(vmaxValue)+'H'+(L.l-77),stroke:LINE,'stroke-width':3,'stroke-dasharray':'12 8',fill:'none'},g);
  
  
  const hd=mk('path',{d:'M'+X(hminValue)+' '+Y(vmaxValue)+'V'+(L.b+68),stroke:LINE,'stroke-width':3,'stroke-dasharray':'12 8',fill:'none'},g);
  
  

  const title=txt(g,(L.l+L.r)/2,L.title,31,categories[i],{anchor:'middle'});
  
  
  yTickLabels.forEach((s,k)=>{
    const t=txt(g,L.l-16,Y(k/10)+12,33,s,{anchor:'end'});
    
    
  });
  xTickLabels.forEach((s,k)=>{
    const t=txt(g,X(k*50),L.b+34,33,s,{anchor:'middle'});
    
    
  });
  const xt=txt(g,X(hminValue)+33,L.b+67,31,'HUE',{});
  
  
  const ymid=(L.t+L.b)/2,yx=L.l-87;
  const yt=txt(g,yx,ymid,31,'VALUE',{anchor:'middle',transform:'rotate(-90 '+yx+' '+ymid+')'});
  
  

  const vy=Y(vmaxValue);
  const v1=txt(g,L.l-164,vy+14,37,'V',{weight:'bold',fill:'#1616d8'});
  
  
  const v2=txt(g,L.l-139,vy+23,24,'max',{weight:'bold',fill:'#1616d8'});
  
  
  const hx=X(hminValue)-48;
  const h1=txt(g,hx,L.b+92,37,'H',{weight:'bold',fill:'#1616d8'});
  
  
  const h2=txt(g,hx+27,L.b+100,24,'min',{weight:'bold',fill:'#1616d8'});
  
  

  const n1=txt(g,L.l+162,L.nowb,43,'No WB',{len:139});
  
  
  const n2=txt(g,L.l+514,L.wb,43,'WB',{len:67});
  
  

  const lx=L.l+L.lx;
  const ld=mk('circle',{cx:lx,cy:L.land,r:8,fill:'#5c4e54'},g);
  
  
  const lt=txt(g,lx+23,L.land+11,32,'Land',{len:72,fill:'#333'});
  
  
  const rt=txt(g,lx-12,L.ref+11,32,'Reference  WBs (WSR)',{len:337,fill:'#333'});
  
  
  const legendLabels=[['0.95 - 1',114,BLUE],['0.8   - 0.95',161,CYAN],['0.7   - 0.8',143,PINK]];
  legendLabels.forEach((ent,k)=>{
    const y=L.e[k],x=lx-3;
    const m=mk('path',{d:'M'+(x-9)+' '+y+'H'+(x+9)+'M'+x+' '+(y-9)+'V'+(y+9),stroke:ent[2],'stroke-width':5,fill:'none'},g);
    
    
    const t=txt(g,lx+24,y+11,32,ent[0],{len:ent[1],fill:'#333'});
    
    
  });
}
categories.forEach((c,i)=>drawPanel(i));
</script>
</body>
</html>
